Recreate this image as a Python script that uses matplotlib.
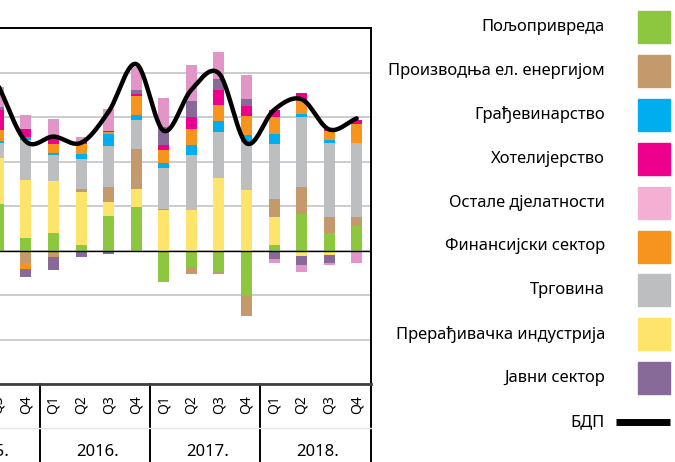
import numpy as np
import matplotlib
matplotlib.use("Agg")
import matplotlib.pyplot as plt
from matplotlib.patches import Rectangle
from matplotlib.transforms import blended_transform_factory

plt.rcParams["font.family"] = ["Noto Sans", "DejaVu Sans"]

# quarters shown on the axis (2015 is cut off on the left side of the picture)
years = ["2015.", "2016.", "2017.", "2018."]
quarter_labels = ["Q1", "Q2", "Q3", "Q4"] * 4

# contributions, Q3 2015 ... Q4 2018
agriculture = [1.04, 0.28, 0.40, 0.12, 0.77, 0.97, -0.71, -0.37, -0.48, -1.03, 0.12, 0.82, 0.40, 0.55]
manufacturing = [1.03, 1.31, 1.16, 1.20, 0.31, 0.42, 0.90, 0.90, 1.63, 1.36, 0.63, -0.13, -0.09, 0.0]
energy = [0.0, -0.28, -0.15, 0.07, 0.34, 0.88, 0.04, -0.16, -0.04, -0.45, 0.41, 0.61, 0.35, 0.20]
trade = [0.35, 0.90, 0.58, 0.67, 0.93, 0.67, 0.92, 1.24, 1.03, 1.08, 1.24, 1.57, 1.66, 1.66]
construction = [0.03, 0.07, 0.04, 0.11, 0.27, 0.10, 0.11, 0.22, 0.24, 0.16, 0.22, 0.07, 0.07, 0.0]
finance = [0.25, -0.13, 0.22, 0.22, 0.04, 0.44, 0.28, 0.38, 0.37, 0.43, 0.37, 0.31, 0.21, 0.43]
hotels = [0.45, 0.17, 0.14, 0.05, 0.03, 0.04, 0.13, 0.26, 0.34, 0.22, 0.16, 0.16, 0.07, 0.10]
public = [0.08, -0.19, -0.29, -0.14, -0.07, 0.09, 0.40, 0.35, 0.24, 0.15, -0.20, -0.20, -0.20, 0.0]
other = [0.45, 0.31, 0.42, 0.10, 0.50, 0.52, 0.65, 0.82, 0.62, 0.55, -0.09, -0.16, -0.04, -0.29]
gdp = [3.70, 2.45, 2.56, 2.42, 3.12, 4.19, 2.69, 3.61, 3.98, 2.41, 3.16, 3.40, 2.72, 2.97]
first_quarter = 2  # index of Q3 2015

# stacking order from the zero line outwards
stack = [
    (agriculture, "#8dc63f"),
    (manufacturing, "#ffe46b"),
    (energy, "#c49a6c"),
    (trade, "#bcbec0"),
    (construction, "#00aeef"),
    (finance, "#f7941d"),
    (hotels, "#ec008c"),
    (public, "#876a98"),
    (other, "#e196c7"),
]

legend_items = [
    ("Пољопривреда", "#8dc63f"),
    ("Производња ел. енергијом", "#c49a6c"),
    ("Грађевинарство", "#00aeef"),
    ("Хотелијерство", "#ec008c"),
    ("Остале дјелатности", "#f4b0d2"),
    ("Финансијски сектор", "#f7941d"),
    ("Трговина", "#bcbec0"),
    ("Прерађивачка индустрија", "#ffe46b"),
    ("Јавни сектор", "#876a98"),
]

W, H = 675, 462
fig = plt.figure(figsize=(W / 100, H / 100), dpi=100)
# axes deliberately starts left of the picture
ax = fig.add_axes([-70.5 / W, (H - 384) / H, 441 / W, 356 / H])

x = np.arange(first_quarter, first_quarter + len(gdp))
pos_base = np.zeros(len(x))
neg_base = np.zeros(len(x))
for values, color in stack:
    v = np.array(values)
    p = np.where(v > 0, v, 0)
    n = np.where(v < 0, v, 0)
    ax.bar(x, p, 0.4, bottom=pos_base, color=color, zorder=2)
    ax.bar(x, n, 0.4, bottom=neg_base, color=color, zorder=2)
    pos_base += p
    neg_base += n

# smoothed GDP line (Catmull-Rom through the quarterly points)
pts = np.column_stack([x, gdp]).astype(float)
ext = np.vstack([2 * pts[0] - pts[1], pts, 2 * pts[-1] - pts[-2]])
curve = []
t = np.linspace(0, 1, 30)[:, None]
for i in range(1, len(ext) - 2):
    p0, p1, p2, p3 = ext[i - 1], ext[i], ext[i + 1], ext[i + 2]
    seg = 0.5 * ((2 * p1) + (-p0 + p2) * t + (2 * p0 - 5 * p1 + 4 * p2 - p3) * t ** 2
                 + (-p0 + 3 * p1 - 3 * p2 + p3) * t ** 3)
    curve.append(seg)
curve = np.vstack(curve)
ax.plot(curve[:, 0], curve[:, 1], color="black", lw=3.2, zorder=4, solid_capstyle="round")

ax.set_xlim(-0.5, 15.5)
ax.set_ylim(-3, 5)
ax.set_yticks(range(-3, 6))
ax.yaxis.grid(True, color="#c4c4c4", lw=1.2, zorder=0)
ax.axhline(0, color="black", lw=1, zorder=3)
ax.tick_params(axis="y", left=False, labelleft=False)
ax.set_xticks(range(16))
ax.set_xticklabels(quarter_labels, rotation=90, fontsize=10)
ax.tick_params(axis="x", length=0, pad=8)
ax.spines["top"].set_linewidth(1.4)
ax.spines["right"].set_linewidth(1.4)
ax.spines["bottom"].set_linewidth(2)
ax.spines["bottom"].set_color("#404040")

# year blocks under the quarter labels
trans = blended_transform_factory(ax.transData, ax.transAxes)
for k, year in enumerate(years):
    ax.text(4 * k + 1.6, -0.191, year, transform=trans, ha="center", va="center", fontsize=12)
for sep in [3.5, 7.5, 11.5, 15.5]:
    ax.plot([sep, sep], [0, -0.25], transform=trans, color="black", lw=1.4, clip_on=False)
ax.plot([-0.5, 15.5], [-0.124, -0.124], transform=trans, color="#e6e6e6", lw=1, clip_on=False)

# legend on the right, drawn by hand
row0, step = 27, 43.9
for k, (label, color) in enumerate(legend_items):
    yc = row0 + k * step
    fig.text(605 / W, 1 - yc / H, label, ha="right", va="center", fontsize=11.9)
    fig.add_artist(Rectangle((638 / W, 1 - (yc + 16) / H), 32 / W, 32 / H,
                             transform=fig.transFigure, color=color))
yc = row0 + len(legend_items) * step
fig.text(605 / W, 1 - yc / H, "БДП", ha="right", va="center", fontsize=11.9)
fig.add_artist(plt.Line2D([616 / W, 670 / W], [1 - yc / H, 1 - yc / H],
                          transform=fig.transFigure, color="black", lw=5,
                          solid_capstyle="butt"))

fig.savefig("out.png", dpi=100)
